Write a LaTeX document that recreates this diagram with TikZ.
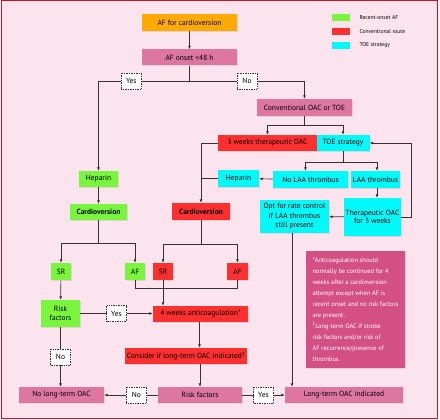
\documentclass[tikz,border=0pt]{standalone}
\usepackage{fontspec}
\setmainfont{PT Sans}
\usetikzlibrary{arrows.meta,positioning,shadows}

\definecolor{bgpink}{RGB}{252,228,238}
\definecolor{boxpink}{RGB}{222,118,162}
\definecolor{notepink}{RGB}{212,80,132}
\definecolor{afgreen}{RGB}{120,245,60}
\definecolor{convred}{RGB}{255,48,48}
\definecolor{toecyan}{RGB}{0,250,250}
\definecolor{startorange}{RGB}{255,170,0}
\definecolor{framered}{RGB}{200,20,40}
\definecolor{linegray}{RGB}{50,50,50}

\begin{document}
\begin{tikzpicture}[x=1pt, y=-1pt,
  every node/.style={font=\fontsize{7.5}{8.5}\selectfont},
  box/.style={inner sep=1pt, align=center, minimum height=16pt,
    drop shadow={shadow xshift=0.8pt, shadow yshift=-0.8pt, opacity=0.2}},
  pinkbox/.style={box, fill=boxpink},
  greenbox/.style={box, fill=afgreen},
  redbox/.style={box, fill=convred},
  cyanbox/.style={box, fill=toecyan},
  legtext/.style={anchor=west, font=\fontsize{5.6}{6.5}\selectfont},
  lbl/.style={draw=linegray, densely dotted, fill=white, inner sep=1pt,
    minimum width=20pt, minimum height=16pt},
  conn/.style={draw=linegray, line width=0.7pt},
  arr/.style={conn, -{Latex[length=3.5pt,width=3pt]}}]
  \useasboundingbox (0,0) rectangle (440,420);
  % frame and background
  \fill[white!60!bgpink] (0,0) rectangle (440,420);
  \draw[fill=bgpink, draw=framered, line width=1pt] (1,1) rectangle (437,418);

  % legend
  \fill[afgreen] (332,14) rectangle (350,21);
  \fill[convred] (332,28) rectangle (350,35);
  \fill[toecyan] (332,42) rectangle (350,49);
  \node[legtext] (leg1) at (356,17.5) {Recent-onset AF};
  \node[legtext] (leg2) at (356,31.5) {Conventional route};
  \node[legtext] (leg3) at (356,45.5) {TOE strategy};

  % top of the chart
  \node[box, fill=startorange, minimum width=95pt, minimum height=17pt] (start) at (189.5,22.5) {AF for cardioversion};
  \node[pinkbox, minimum width=95pt] (onset) at (189.5,57.5) {AF onset <48 h};
  \node[pinkbox, minimum width=95pt, minimum height=17pt] (conv) at (304.5,107.5) {Conventional OAC or TOE};

  % conventional route and TOE strategy
  \node[redbox, minimum width=99pt] (oac3) at (267.5,143) {3 weeks therapeutic OAC};
  \node[cyanbox, minimum width=53pt] (toe) at (343,143) {TOE strategy};
  \node[cyanbox, minimum width=75pt, minimum height=17pt] (nolaa) at (310.5,179.5) {No LAA thrombus};
  \node[cyanbox, minimum width=49pt, minimum height=17pt] (laa) at (375.5,179.5) {LAA thrombus};
  \node[cyanbox, minimum width=41pt, minimum height=17pt] (hepc) at (238.5,178.5) {Heparin};
  \node[redbox, minimum width=58pt, minimum height=17pt, font=\fontsize{7.5}{8.5}\selectfont\bfseries] (cvr) at (201,211.5) {Cardioversion};
  \node[cyanbox, minimum width=57pt, minimum height=38pt] (theroac) at (372.5,217) {Therapeutic OAC\\for 3 weeks};
  \node[cyanbox, minimum width=69pt, minimum height=33pt, font=\fontsize{7.5}{9.5}\selectfont] (rate) at (294.5,216.5) {Opt for rate control\\if LAA thrombus\\still present};

  % recent-onset route
  \node[greenbox, minimum width=39pt] (hepg) at (98.5,179) {Heparin};
  \node[greenbox, minimum width=57pt, font=\fontsize{7.5}{8.5}\selectfont\bfseries] (cvg) at (98.5,212) {Cardioversion};
  \node[greenbox, minimum width=20pt, minimum height=17pt] (srg) at (61,271.5) {SR};
  \node[greenbox, minimum width=20pt, minimum height=17pt] (afg) at (135,271.5) {AF};
  \node[redbox, minimum width=20pt, minimum height=17pt] (srr) at (163,271.5) {SR};
  \node[redbox, minimum width=21pt, minimum height=17pt] (afr) at (237.5,271.5) {AF};
  \node[greenbox, minimum width=39pt, minimum height=27pt] (riskg) at (60.5,313.5) {Risk\\factors};

  % after cardioversion
  \node[redbox, minimum width=95pt] (anti) at (200.5,314) {4 weeks anticoagulation*};
  \node[redbox, minimum width=122pt] (consider) at (186,356) {Consider if long-term OAC indicated\textsuperscript{\textdagger}};
  \node[pinkbox, minimum width=84pt] (riskp) at (200,395) {Risk factors};
  \node[pinkbox, minimum width=85pt] (nolt) at (61.5,395) {No long-term OAC};
  \node[pinkbox, minimum width=118pt] (lt) at (344,395) {Long-term OAC indicated};

  % footnotes
  \node[box, fill=notepink, text=white, align=left, minimum width=99pt, minimum height=117pt,
    font=\fontsize{6.4}{11}\selectfont] (note) at (355.5,309.5)
    {*Anticoagulation should\\normally be continued for 4\\weeks after a cardioversion\\attempt except when AF is\\recent onset and no risk factors\\are present.\\\textsuperscript{\textdagger}Long-term OAC if stroke\\risk factors and/or risk of\\AF recurrence/presence of\\thrombus.};

  % connectors
  \coordinate (s1) at (189.5,81);
  \draw[arr] (start) -- (onset);
  \draw[conn] (onset) -- (s1);
  \draw[arr] (s1) -| node[lbl, pos=0.32] {Yes} (hepg);
  \draw[arr] (s1) -| node[lbl, pos=0.25] {No} (conv);

  \coordinate (s2) at (304.5,125);
  \draw[conn] (conv) -- (s2);
  \draw[arr] (s2) -| (oac3);
  \draw[arr] (s2) -| (toe);
  \draw[arr] (oac3) -| (cvr);
  \draw[conn] (hepc) -- (hepc -| cvr);

  \coordinate (s3) at (343,162);
  \draw[conn] (toe) -- (s3);
  \draw[arr] (s3) -| ([xshift=-5pt]nolaa.north);
  \draw[arr] (s3) -| ([xshift=1.5pt]laa.north);
  \draw[arr] (nolaa) -- (hepc);
  \draw[arr] ([xshift=1.5pt]laa.south) -- ([xshift=1.5pt]laa.south |- theroac.north);
  \draw[arr] (theroac.east) -- ++(10,0) |- (toe.east);
  \draw[arr] (theroac) -- (rate);
  \draw[arr] ([xshift=-2.5pt]rate.south) -- ([xshift=-2.5pt]rate.south |- lt.north);

  \coordinate (s4) at (98.5,243);
  \draw[arr] (hepg) -- (cvg);
  \draw[conn] (cvg) -- (s4);
  \draw[arr] (s4) -| (srg);
  \draw[arr] (s4) -| (afg);

  \coordinate (s5) at (201,244);
  \draw[conn] (cvr) -- (s5);
  \draw[arr] (s5) -| (srr);
  \draw[arr] (s5) -| (afr);
  \draw[conn] (afg.south) -- ++(0,8) -| (afr.south);
  \draw[arr] (srr) -- (srr |- anti.north);

  \draw[arr] (srg) -- (riskg);
  \draw[arr] (riskg) -- node[lbl] {Yes} (riskg -| anti.west);
  \draw[arr] (riskg) -- node[lbl] {No} (riskg |- nolt.north);
  \draw[arr] ([xshift=-1pt]anti.south) -- ([xshift=-1pt]anti.south |- consider.north);
  \draw[arr] (consider.south -| riskp) -- (riskp);
  \draw[arr] (riskp) -- node[lbl, pos=0.4] {No} (nolt);
  \draw[arr] (riskp) -- node[lbl] {Yes} (lt);
\end{tikzpicture}
\end{document}
